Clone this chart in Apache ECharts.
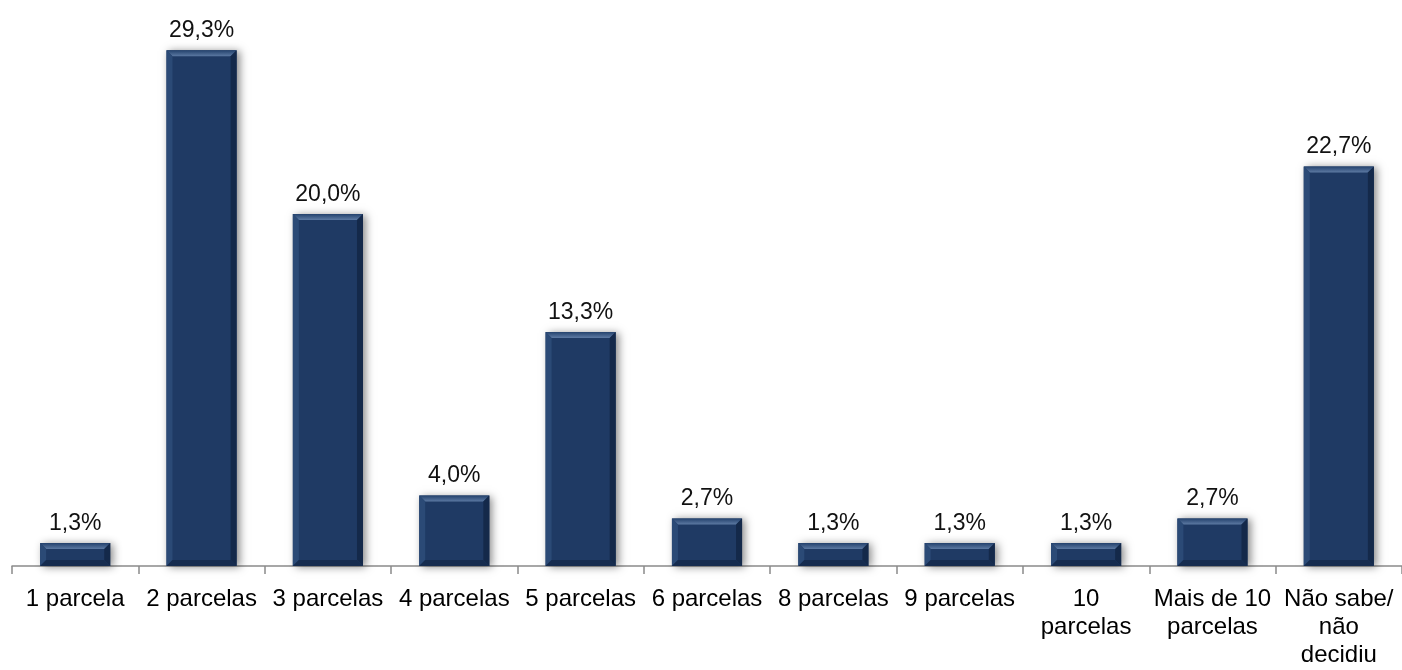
<!DOCTYPE html>
<html>
<head>
<meta charset="utf-8">
<style>
  html, body { margin: 0; padding: 0; background: #ffffff; }
  #chart { width: 1402px; height: 670px; }
</style>
<script src="https://cdn.jsdelivr.net/npm/echarts@6/dist/echarts.min.js"></script>
</head>
<body>
<div id="chart"></div>
<script>
// Número de parcelas pretendidas
const categories = [
  '1 parcela', '2 parcelas', '3 parcelas', '4 parcelas', '5 parcelas',
  '6 parcelas', '8 parcelas', '9 parcelas', '10\nparcelas',
  'Mais de 10\nparcelas', 'Não sabe/\nnão\ndecidiu'
];
const shares = [1.3, 29.3, 20.0, 4.0, 13.3, 2.7, 1.3, 1.3, 1.3, 2.7, 22.7];

const FONT = '"Liberation Sans", Arial, sans-serif';
const BAR_FRACTION = 0.555;

function fmt(v) {
  return v.toFixed(1).replace('.', ',') + '%';
}

// Beveled navy column with a soft drop shadow and its value above it
function renderBar(params, api) {
  const idx = api.value(0);
  const val = api.value(1);
  const top = api.coord([idx, val]);
  const base = api.coord([idx, 0]);
  const w = api.size([1, 0])[0] * BAR_FRACTION;
  const x0 = top[0] - w / 2;
  const x1 = top[0] + w / 2;
  const y0 = top[1];
  const y1 = base[1];
  const h = y1 - y0;
  const b = Math.min(6, h / 2.5);

  return {
    type: 'group',
    children: [
      {
        type: 'rect',
        shape: { x: x0, y: y0, width: w, height: h },
        style: {
          fill: '#1f3a64',
          shadowBlur: 8,
          shadowColor: 'rgba(0,0,0,0.45)',
          shadowOffsetX: 3,
          shadowOffsetY: 1
        }
      },
      // top bevel (highlight)
      {
        type: 'polygon',
        shape: { points: [[x0, y0], [x1, y0], [x1 - b, y0 + b], [x0 + b, y0 + b]] },
        style: {
          fill: new echarts.graphic.LinearGradient(0, 0, 0, 1, [
            { offset: 0, color: '#24426d' },
            { offset: 1, color: '#5d7aa3' }
          ])
        }
      },
      // left bevel
      {
        type: 'polygon',
        shape: { points: [[x0, y0], [x0 + b, y0 + b], [x0 + b, y1 - b], [x0, y1]] },
        style: { fill: '#2b4a76' }
      },
      // right bevel
      {
        type: 'polygon',
        shape: { points: [[x1, y0], [x1, y1], [x1 - b, y1 - b], [x1 - b, y0 + b]] },
        style: { fill: '#14294a' }
      },
      // bottom bevel
      {
        type: 'polygon',
        shape: { points: [[x0, y1], [x0 + b, y1 - b], [x1 - b, y1 - b], [x1, y1]] },
        style: { fill: '#162c4f' }
      },
      // value label
      {
        type: 'text',
        style: {
          x: top[0],
          y: y0 - 8,
          text: fmt(val),
          fill: '#111111',
          font: '23px ' + FONT,
          align: 'center',
          verticalAlign: 'bottom'
        }
      }
    ]
  };
}

const chart = echarts.init(document.getElementById('chart'), null, { renderer: 'canvas' });
chart.setOption({
  animation: false,
  backgroundColor: '#ffffff',
  grid: { left: 12, right: 0, top: 38, bottom: 104, containLabel: false },
  xAxis: {
    type: 'category',
    data: categories,
    boundaryGap: true,
    axisLine: { lineStyle: { color: '#8a8a8a', width: 1.5 } },
    axisTick: { show: true, length: 8, lineStyle: { color: '#8a8a8a', width: 1.5 } },
    axisLabel: {
      interval: 0,
      margin: 19,
      color: '#000000',
      fontFamily: FONT,
      fontSize: 24,
      lineHeight: 28,
      align: 'center'
    }
  },
  yAxis: {
    type: 'value',
    min: 0,
    max: 30,
    show: false,
    splitLine: { show: false }
  },
  series: [{
    type: 'custom',
    renderItem: renderBar,
    data: shares.map((v, i) => [i, v]),
    encode: { x: 0, y: 1 },
    clip: false
  }]
});
</script>
</body>
</html>
